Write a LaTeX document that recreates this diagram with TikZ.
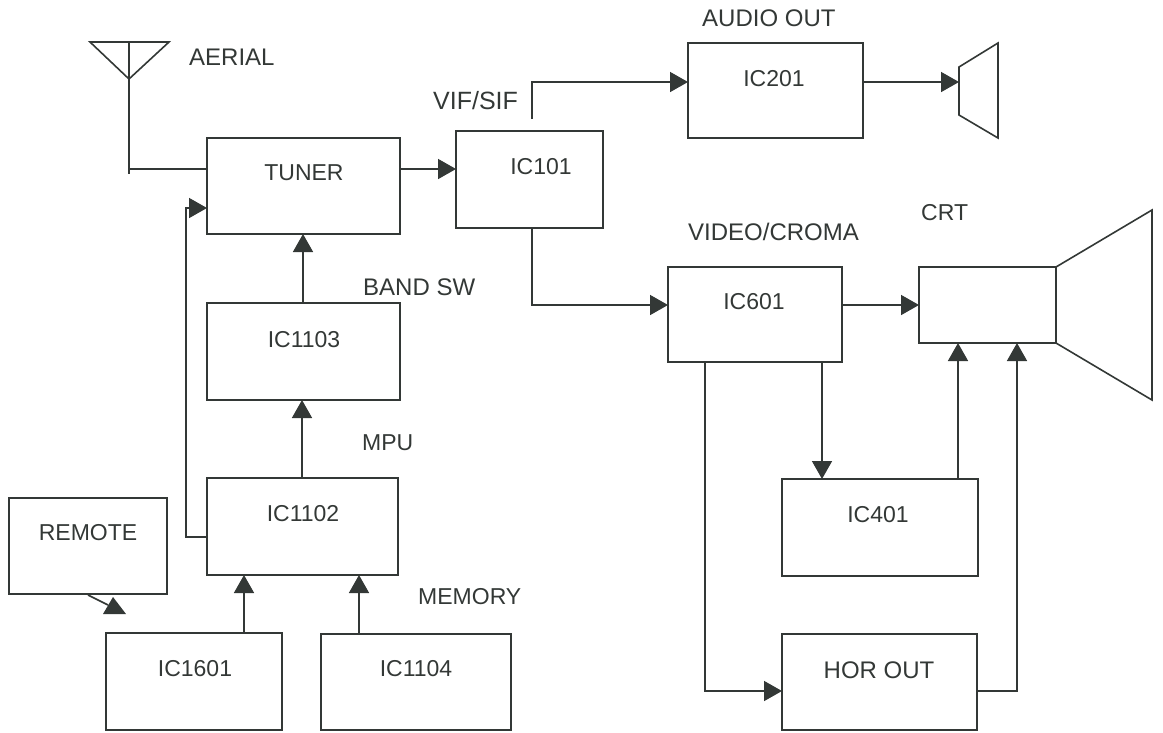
\documentclass[tikz,border=0pt]{standalone}
\usepackage{fontspec}
\setmainfont{Liberation Sans}
\usetikzlibrary{arrows.meta}
\definecolor{ink}{HTML}{333836}
\tikzset{
  box/.style={draw=ink,line width=1.6pt,inner sep=0pt,outer sep=0pt,anchor=north west,fill=none},
  txt/.style={text=ink,font=\fontsize{23}{27}\selectfont,inner sep=0pt},
  big/.style={text=ink,font=\fontsize{24}{28}\selectfont,inner sep=0pt},
  lbl/.style={txt,anchor=west},
  biglbl/.style={big,anchor=west},
  wire/.style={draw=ink,line width=1.6pt,line join=miter},
  arr/.style={wire,-{Triangle[length=18pt,width=20pt,color=ink]}},
}
\newcommand{\boxat}[5]{\node[box,minimum width=#3pt-#1pt,minimum height=#4pt-#2pt] (#5) at (#1,#2) {};}
\begin{document}
\begin{tikzpicture}[x=1pt,y=-1pt]
\useasboundingbox (0,0) rectangle (1163,732);
% boxes
\boxat{207}{138}{400}{234}{tuner}
\boxat{456}{131}{603}{228}{ic101}
\boxat{688}{43}{863}{138}{ic201}
\boxat{668}{267}{842}{362}{ic601}
\boxat{919}{267}{1056}{343}{crt}
\boxat{207}{303}{400}{400}{ic1103}
\boxat{207}{478}{398}{575}{ic1102}
\boxat{9}{498}{167}{594}{remote}
\boxat{106}{633}{282}{730}{ic1601}
\boxat{321}{634}{511}{730}{ic1104}
\boxat{782}{479}{978}{576}{ic401}
\boxat{782}{634}{977}{730}{horout}
% box texts
\node[txt] (ttuner) at (304,173) {TUNER};
\node[txt] (tic101) at (541,167) {IC101};
\node[txt] (tic201) at (774,79) {IC201};
\node[txt] (tic601) at (754,302) {IC601};
\node[txt] (tic1103) at (304,340) {IC1103};
\node[txt] (tic1102) at (303,514) {IC1102};
\node[txt] (tremote) at (88,533) {REMOTE};
\node[txt] (tic1601) at (195,669) {IC1601};
\node[txt] (tic1104) at (416,669) {IC1104};
\node[txt] (tic401) at (878,515) {IC401};
\node[big] (thorout) at (879,670) {HOR OUT};
% free labels
\node[biglbl] (laerial) at (189,57) {AERIAL};
\node[biglbl] (laudio) at (702,18) {AUDIO OUT};
\node[lbl,font=\fontsize{25}{29}\selectfont] (lvif) at (433,101) {VIF/SIF};
\node[biglbl] (lband) at (363,287) {BAND SW};
\node[lbl] (lmpu) at (362,443) {MPU};
\node[lbl] (lmem) at (418,597) {MEMORY};
\node[biglbl] (lvideo) at (688,232) {VIDEO/CROMA};
\node[lbl] (lcrt) at (921,213) {CRT};
% aerial
\coordinate (antL) at (90,42);
\coordinate (antR) at (169,42);
\coordinate (antA) at (129,79);
\coordinate (antT) at (129,42);
\coordinate (antB) at (129,174);
\draw[wire] (antL) -- (antR) -- (antA) -- cycle;
\draw[wire] (antT) -- (antB);
\draw[wire] (antB |- 0,169) -- (tuner.west |- 0,169);
% speaker
\coordinate (spA) at (959,67);
\coordinate (spB) at (998,43);
\coordinate (spC) at (998,138);
\coordinate (spD) at (959,115);
\draw[wire] (spA) -- (spB) -- (spC) -- (spD) -- cycle;
% CRT cone
\coordinate (coneB) at (1152,210);
\coordinate (coneC) at (1152,400);
\draw[wire] (crt.north east) -- (coneB) -- (coneC) -- (crt.south east);
% connectors
\draw[arr] (tuner.east |- 0,169) -- (ic101.west |- 0,169);
\draw[arr] (ic1103.north -| 303,0) -- (tuner.south -| 303,0);
\draw[arr] (ic1102.north -| 302,0) -- (ic1103.south -| 302,0);
\draw[arr] (ic1601.north -| 244,0) -- (ic1102.south -| 244,0);
\draw[arr] (ic1104.north -| 359,0) -- (ic1102.south -| 359,0);
\coordinate (bendA) at (186,537);
\coordinate (bendB) at (186,208);
\draw[arr] (ic1102.west |- bendA) -- (bendA) -- (bendB) -- (tuner.west |- bendB);
\coordinate (vifS) at (532,119);
\coordinate (vifA) at (532,82);
\draw[arr] (vifS) -- (vifA) -- (ic201.west |- vifA);
\draw[arr] (ic201.east |- vifA) -- (spA |- vifA);
\coordinate (vidA) at (532,305);
\draw[arr] (ic101.south -| vidA) -- (vidA) -- (ic601.west |- vidA);
\draw[arr] (ic601.east |- vidA) -- (crt.west |- vidA);
\draw[arr] (ic601.south -| 822,0) -- (ic401.north -| 822,0);
\coordinate (horA) at (705,691);
\draw[arr] (ic601.south -| horA) -- (horA) -- (horout.west |- horA);
\draw[arr] (ic401.north -| 958,0) -- (crt.south -| 958,0);
\coordinate (horB) at (1017,691);
\draw[arr] (horout.east |- horB) -- (horB) -- (crt.south -| horB);
% remote signal
\coordinate (remA) at (88,595);
\coordinate (remB) at (108,605);
\draw[wire] (remA) -- (remB);
\fill[ink] (113,597) -- (126,614) -- (103,614) -- cycle;
\end{tikzpicture}
\end{document}
